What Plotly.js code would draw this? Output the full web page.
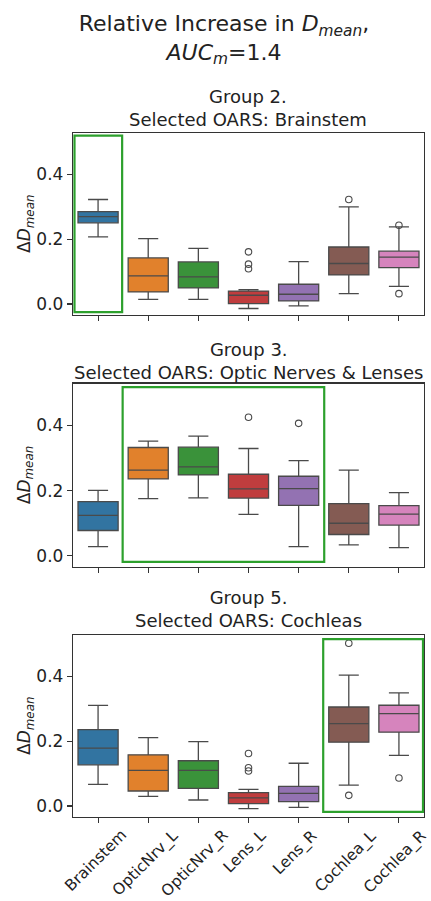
<!DOCTYPE html>
<html>
<head>
<meta charset="utf-8">
<script src="https://cdn.plot.ly/plotly-3.0.1.min.js"></script>
<style>html,body{margin:0;padding:0;background:#fff;}#chart{width:431px;height:901px;}</style>
</head>
<body>
<div id="chart"></div>
<script>
// ---------------- data ----------------
const categories = ['Brainstem', 'OpticNrv_L', 'OpticNrv_R', 'Lens_L', 'Lens_R', 'Cochlea_L', 'Cochlea_R'];
const groupTitles = ['Group 2.<br>Selected OARS: Brainstem',
                     'Group 3.<br>Selected OARS: Optic Nerves & Lenses',
                     'Group 5.<br>Selected OARS: Cochleas'];

// Group 2
const g2_lower  = [0.207, 0.0145, 0.0145, -0.014, -0.006, 0.032, 0.0547];
const g2_q1     = [0.2505, 0.0372, 0.0496, 0.001, 0.0094, 0.0897, 0.112];
const g2_median = [0.270, 0.0867, 0.0836, 0.027, 0.030, 0.125, 0.145];
const g2_q3     = [0.2855, 0.1423, 0.130, 0.040, 0.061, 0.176, 0.163];
const g2_upper  = [0.3226, 0.202, 0.172, 0.0445, 0.131, 0.300, 0.238];
const g2_outliers = [[], [], [], [0.161, 0.123, 0.109], [], [0.3226], [0.243, 0.032]];

// Group 3
const g3_lower  = [0.0286, 0.1753, 0.178, 0.127, 0.0286, 0.0337, 0.0255];
const g3_q1     = [0.0778, 0.2358, 0.248, 0.177, 0.155, 0.0655, 0.0943];
const g3_median = [0.124, 0.2625, 0.2727, 0.205, 0.206, 0.100, 0.128];
const g3_q3     = [0.166, 0.332, 0.333, 0.250, 0.244, 0.160, 0.154];
const g3_upper  = [0.2009, 0.3517, 0.367, 0.329, 0.292, 0.2625, 0.194];
const g3_outliers = [[], [], [], [0.4245], [0.406], [], []];

// Group 5
const g5_lower  = [0.0668, 0.0298, 0.0185, -0.008, -0.004, 0.0647, 0.156];
const g5_q1     = [0.127, 0.0463, 0.0545, 0.0074, 0.0134, 0.197, 0.2278];
const g5_median = [0.1786, 0.110, 0.110, 0.0250, 0.039, 0.2545, 0.285];
const g5_q3     = [0.236, 0.158, 0.1397, 0.041, 0.0606, 0.3057, 0.311];
const g5_upper  = [0.3109, 0.2114, 0.199, 0.0514, 0.132, 0.404, 0.349];
const g5_outliers = [[], [], [], [0.162, 0.118, 0.108], [], [0.5027, 0.0329], [0.0863]];

const yTickVals = [0.0, 0.2, 0.4];
const yTickText = ['0.0', '0.2', '0.4'];

// highlighted category spans per group (in category units)
const highlightX0 = [-0.47, 0.49, 4.49];
const highlightX1 = [0.48, 4.51, 6.48];
const highlightY0 = [-0.025, -0.018, -0.018];
const highlightY1 = [0.52, 0.517, 0.515];

// ---------------- style ----------------
const colors = ['#3274a1', '#e1812c', '#3a923a', '#c03d3e', '#9372b2', '#845b53', '#d684bd'];
const FONT = 'DejaVu Sans, Verdana, sans-serif';
const W = 431, H = 901;
const px2py = p => 1 - p / H;
const lineCol = '#4a4a4a';

const groups = [
  {lower: g2_lower, q1: g2_q1, median: g2_median, q3: g2_q3, upper: g2_upper, out: g2_outliers},
  {lower: g3_lower, q1: g3_q1, median: g3_median, q3: g3_q3, upper: g3_upper, out: g3_outliers},
  {lower: g5_lower, q1: g5_q1, median: g5_median, q3: g5_q3, upper: g5_upper, out: g5_outliers}
];

// plot rectangles in pixels (top, bottom)
const plotTopPx = [133, 383.5, 635];
const plotBotPx = [315, 567, 817];
const titleBottomPx = [131.7, 384.5, 633.4];
const xLeftPx = 73, xRightPx = 424;

const traces = [];
groups.forEach((g, gi) => {
  const sfx = gi === 0 ? '' : String(gi + 1);
  categories.forEach((c, ci) => {
    traces.push({
      type: 'box',
      x: [ci],
      q1: [g.q1[ci]], median: [g.median[ci]], q3: [g.q3[ci]],
      lowerfence: [g.lower[ci]], upperfence: [g.upper[ci]],
      width: 0.8,
      whiskerwidth: 0.5,
      fillcolor: colors[ci],
      line: {color: lineCol, width: 1.3},
      boxpoints: false,
      name: c,
      xaxis: 'x' + sfx, yaxis: 'y' + sfx,
      hoverinfo: 'skip'
    });
    if (g.out[ci].length) {
      traces.push({
        type: 'scatter', mode: 'markers',
        x: g.out[ci].map(() => ci), y: g.out[ci],
        marker: {symbol: 'circle-open', size: 6.5, color: lineCol, line: {width: 1.1, color: lineCol}},
        xaxis: 'x' + sfx, yaxis: 'y' + sfx,
        hoverinfo: 'skip', showlegend: false
      });
    }
  });
});

const layout = {
  width: W, height: H,
  margin: {l: 0, r: 0, t: 0, b: 0},
  paper_bgcolor: '#ffffff', plot_bgcolor: '#ffffff',
  showlegend: false,
  font: {family: FONT, color: '#222222'},
  title: {
    text: 'Relative Increase in <i>D</i><sub><i>mean</i></sub>,<br><i>AUC</i><sub><i>m</i></sub>=1.4',
    font: {family: FONT, size: 22, color: '#222222'},
    x: 224 / W, xanchor: 'center', xref: 'paper',
    y: px2py(31), yanchor: 'top', yref: 'container'
  },
  annotations: [],
  shapes: []
};

for (let gi = 0; gi < 3; gi++) {
  const sfx = gi === 0 ? '' : String(gi + 1);
  layout['xaxis' + sfx] = {
    domain: [xLeftPx / W, xRightPx / W],
    anchor: 'y' + sfx,
    range: [-0.5, 6.5],
    tickvals: categories.map((c, i) => i),
    showticklabels: false,
    ticks: 'outside', ticklen: 5, tickwidth: 1.1, tickcolor: '#333',
    showline: true, mirror: true, linecolor: '#333', linewidth: 1.2,
    showgrid: false, zeroline: false, fixedrange: true
  };
  layout['yaxis' + sfx] = {
    domain: [px2py(plotBotPx[gi]), px2py(plotTopPx[gi])],
    anchor: 'x' + sfx,
    range: [-0.034, 0.528],
    tickvals: yTickVals, ticktext: yTickText,
    tickfont: {family: FONT, size: 17, color: '#222222'},
    ticks: 'outside', ticklen: 5, tickwidth: 1.1, tickcolor: '#333',
    showline: true, mirror: true, linecolor: '#333', linewidth: 1.2,
    showgrid: false, zeroline: false, fixedrange: true
  };
  // subplot title
  layout.annotations.push({
    text: groupTitles[gi],
    xref: 'paper', yref: 'paper',
    x: (xLeftPx + xRightPx) / 2 / W, y: px2py(titleBottomPx[gi]),
    xanchor: 'center', yanchor: 'bottom',
    showarrow: false,
    font: {family: FONT, size: 18, color: '#222222'}
  });
  // y-axis title
  layout.annotations.push({
    text: 'Δ<i>D</i><sub><i>mean</i></sub>',
    xref: 'paper', yref: 'y' + sfx + ' domain',
    x: 25 / W, y: 0.5,
    xanchor: 'center', yanchor: 'middle',
    textangle: -90,
    showarrow: false,
    font: {family: FONT, size: 17, color: '#222222'}
  });
  // highlight rectangle
  layout.shapes.push({
    type: 'rect', xref: 'x' + sfx, yref: 'y' + sfx,
    x0: highlightX0[gi], x1: highlightX1[gi], y0: highlightY0[gi], y1: highlightY1[gi],
    line: {color: '#2ca02c', width: 2.2},
    fillcolor: 'rgba(0,0,0,0)'
  });
}

// rotated category labels under the bottom subplot
categories.forEach((c, ci) => {
  layout.annotations.push({
    text: c,
    xref: 'x3', yref: 'paper',
    x: ci, y: px2py(825),
    xanchor: 'center', yanchor: 'top',
    xshift: -3,
    textangle: -45,
    showarrow: false,
    borderpad: 0,
    font: {family: FONT, size: 15.5, color: '#222222'}
  });
});

Plotly.newPlot('chart', traces, layout, {staticPlot: true, displayModeBar: false});
</script>
</body>
</html>
